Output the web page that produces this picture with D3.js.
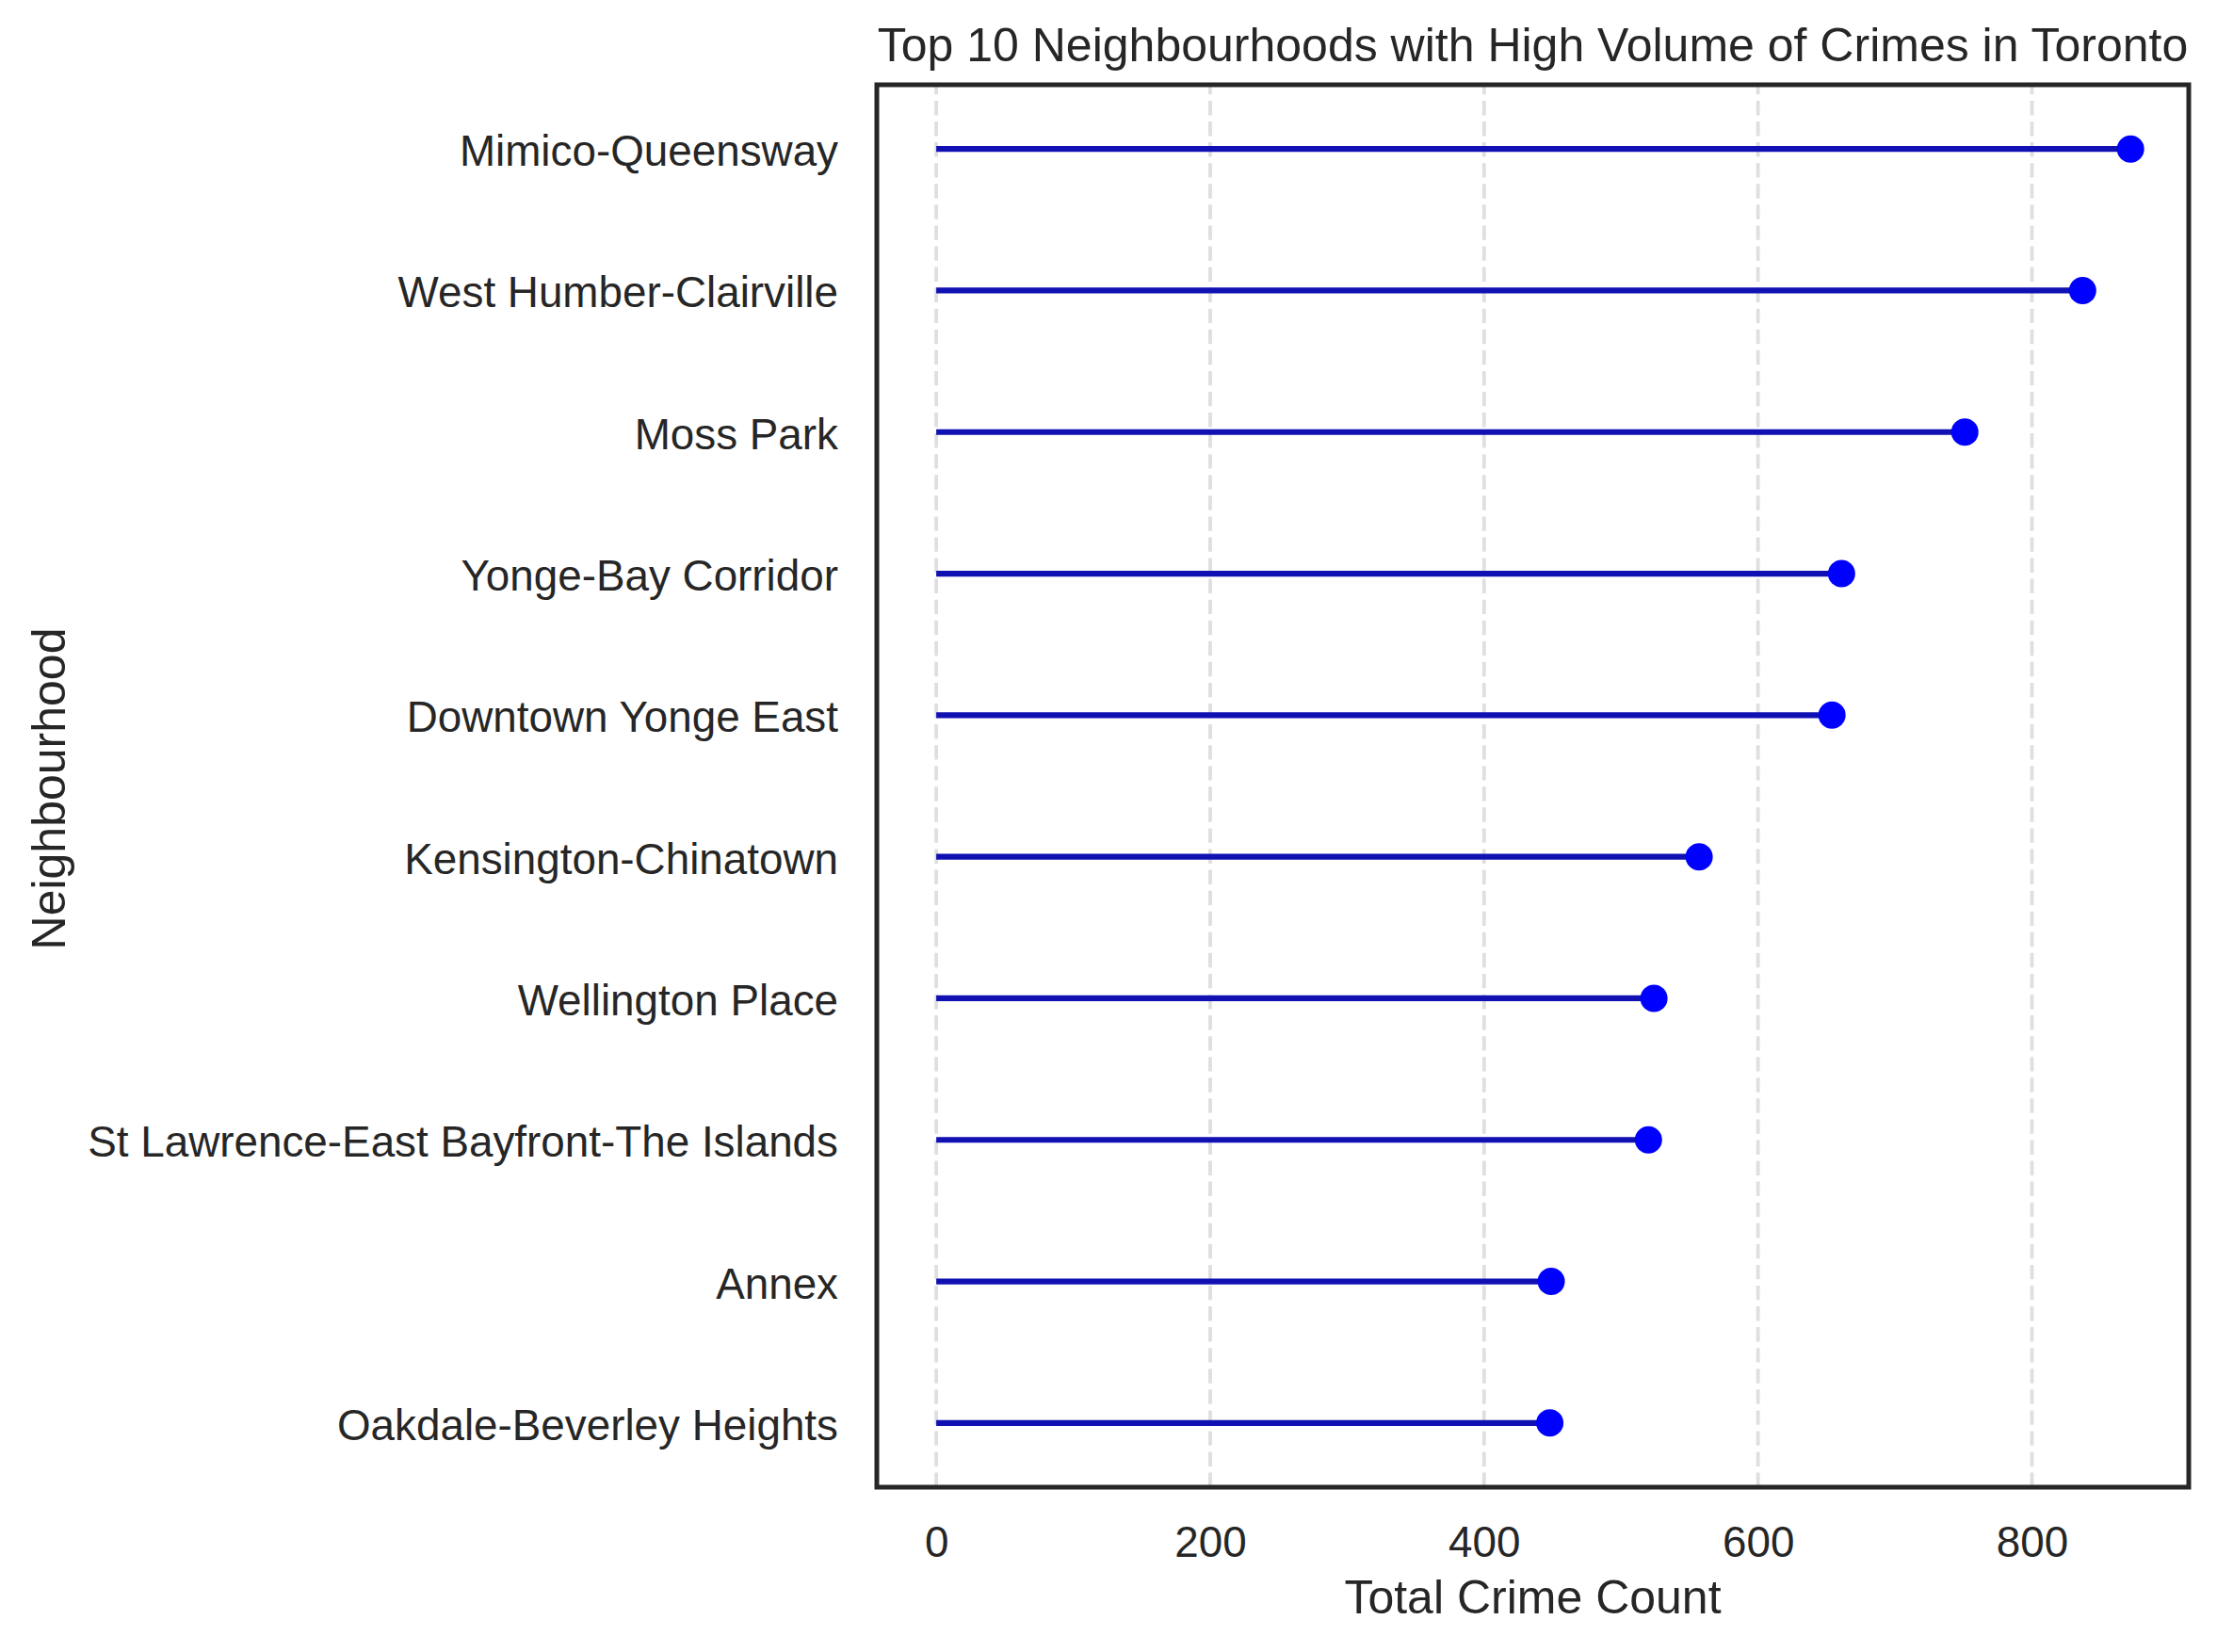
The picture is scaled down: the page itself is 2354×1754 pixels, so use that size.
<!DOCTYPE html>
<html>
<head>
<meta charset="utf-8">
<script src="https://cdn.jsdelivr.net/npm/d3@7"></script>
<style>
  html, body { margin: 0; padding: 0; background: #ffffff; }
  svg { display: block; }
  text { font-family: "Liberation Sans", Arial, Helvetica, sans-serif; fill: #262626; }
</style>
</head>
<body>
<svg id="chart" width="2354" height="1754"></svg>
<script>
// ---- Data ----
const neighbourhoods = [
  "Mimico-Queensway",
  "West Humber-Clairville",
  "Moss Park",
  "Yonge-Bay Corridor",
  "Downtown Yonge East",
  "Kensington-Chinatown",
  "Wellington Place",
  "St Lawrence-East Bayfront-The Islands",
  "Annex",
  "Oakdale-Beverley Heights"
];
const crimeCounts = [872, 837, 751, 661, 654, 557, 524, 520, 449, 448];
const xTicks = [0, 200, 400, 600, 800];
const titleText = "Top 10 Neighbourhoods with High Volume of Crimes in Toronto";
const xLabelText = "Total Crime Count";
const yLabelText = "Neighbourhood";

// ---- Layout ----
const W = 2354, H = 1754;
const plot = { left: 931, right: 2324, top: 90, bottom: 1579 };
const tickFont = 45.8, labelFont = 50;

const svg = d3.select("#chart");
svg.append("rect").attr("width", W).attr("height", H).attr("fill", "#ffffff");

const x = d3.scaleLinear().domain([-43.4, 914.5]).range([plot.left, plot.right]);
const y = d3.scalePoint().domain(neighbourhoods).range([plot.top, plot.bottom]).padding(0.4535);

const data = neighbourhoods.map((n, i) => ({ name: n, value: crimeCounts[i] }));

// Grid lines (vertical, dashed, drawn bottom->top like matplotlib)
svg.append("g").selectAll("line").data(xTicks).join("line")
  .attr("x1", d => x(d)).attr("x2", d => x(d))
  .attr("y1", plot.bottom).attr("y2", plot.top)
  .attr("stroke", "#dfdfdf").attr("stroke-width", 3.8)
  .attr("stroke-dasharray", "15.4,6.67");

// Stems
svg.append("g").selectAll("line").data(data).join("line")
  .attr("x1", x(0)).attr("x2", d => x(d.value))
  .attr("y1", d => y(d.name)).attr("y2", d => y(d.name))
  .attr("stroke", "#1111b3").attr("stroke-width", 6.2);

// Dots
svg.append("g").selectAll("circle").data(data).join("circle")
  .attr("cx", d => x(d.value)).attr("cy", d => y(d.name))
  .attr("r", 14.5).attr("fill", "#0000ff");

// Frame
svg.append("rect")
  .attr("x", plot.left).attr("y", plot.top)
  .attr("width", plot.right - plot.left).attr("height", plot.bottom - plot.top)
  .attr("fill", "none").attr("stroke", "#262626").attr("stroke-width", 5);

// X axis
const xAxis = svg.append("g")
  .attr("transform", `translate(0,${plot.bottom})`)
  .call(d3.axisBottom(x).tickValues(xTicks).tickSize(0).tickFormat(d3.format("d")));
xAxis.select(".domain").remove();
xAxis.selectAll("text")
  .attr("y", 74).attr("dy", 0)
  .style("font-size", tickFont + "px")
  .style("font-family", '"Liberation Sans", Arial, sans-serif')
  .attr("fill", "#262626");

// Y axis
const yAxis = svg.append("g")
  .attr("transform", `translate(${plot.left},0)`)
  .call(d3.axisLeft(y).tickSize(0));
yAxis.select(".domain").remove();
yAxis.selectAll("text")
  .attr("x", -41).attr("dy", 0).attr("y", 17.5)
  .attr("text-anchor", "end")
  .style("font-size", tickFont + "px")
  .style("font-family", '"Liberation Sans", Arial, sans-serif')
  .attr("fill", "#262626");

// Title
svg.append("text")
  .attr("x", (plot.left + plot.right) / 2).attr("y", 65)
  .attr("text-anchor", "middle")
  .style("font-size", labelFont + "px")
  .text(titleText);

// X label
svg.append("text")
  .attr("x", (plot.left + plot.right) / 2).attr("y", 1713)
  .attr("text-anchor", "middle")
  .style("font-size", labelFont + "px")
  .text(xLabelText);

// Y label
svg.append("text")
  .attr("transform", `translate(69,${(plot.top + plot.bottom) / 2 + 3}) rotate(-90)`)
  .attr("text-anchor", "middle")
  .style("font-size", labelFont + "px")
  .text(yLabelText);
</script>
</body>
</html>
